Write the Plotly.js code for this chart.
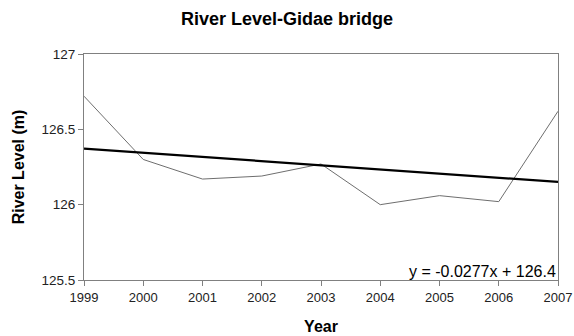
<!DOCTYPE html>
<html>
<head>
<meta charset="utf-8">
<script src="https://cdn.plot.ly/plotly-3.0.1.min.js"></script>
<style>html,body{margin:0;padding:0;background:#fff;}#chart{width:574px;height:336px;}</style>
</head>
<body>
<div id="chart"></div>
<script>
var years = [1999, 2000, 2001, 2002, 2003, 2004, 2005, 2006, 2007];
var levels = [126.72, 126.30, 126.17, 126.19, 126.27, 126.00, 126.06, 126.02, 126.62];
var trendYears = [1999, 2007];
var trendLevels = [126.372, 126.151];
var equationText = 'y = -0.0277x + 126.4';

var font = 'Arial, "Liberation Sans", sans-serif';
var data = [
  {x: years, y: levels, type: 'scatter', mode: 'lines', line: {color: '#6e6e6e', width: 1}, hoverinfo: 'x+y'},
  {x: trendYears, y: trendLevels, type: 'scatter', mode: 'lines', line: {color: '#000000', width: 2.2}, hoverinfo: 'skip'}
];
var layout = {
  width: 574, height: 336,
  margin: {l: 84, r: 16, t: 54, b: 56},
  paper_bgcolor: '#fff', plot_bgcolor: '#fff',
  showlegend: false,
  font: {family: font, size: 13, color: '#000'},
  title: {text: '<b>River Level-Gidae bridge</b>', font: {family: font, size: 18, color: '#000'}, x: 0.5, xanchor: 'center', y: 0.945, yanchor: 'middle'},
  xaxis: {
    range: [1999, 2007], tickmode: 'array', tickvals: years, ticktext: years.map(String),
    showgrid: false, zeroline: false, showline: true, linecolor: '#808080', linewidth: 1, mirror: true,
    ticks: 'outside', ticklen: 5, tickcolor: '#808080',
    tickfont: {family: font, size: 13, color: '#222'},
    title: {text: '<b>Year</b>', font: {family: font, size: 16, color: '#000'}, standoff: 17}
  },
  yaxis: {
    range: [125.5, 127], tickmode: 'array', tickvals: [125.5, 126, 126.5, 127], ticktext: ['125.5', '126', '126.5', '127'],
    showgrid: false, zeroline: false, showline: true, linecolor: '#808080', linewidth: 1, mirror: true,
    ticks: 'outside', ticklen: 5, tickcolor: '#808080',
    tickfont: {family: font, size: 13.5, color: '#222'},
    title: {text: '<b>River Level (m)</b>', font: {family: font, size: 16, color: '#000'}, standoff: 12}
  },
  annotations: [{
    text: equationText, xref: 'paper', yref: 'paper', x: 1, y: 0, xanchor: 'right', yanchor: 'bottom',
    showarrow: false, font: {family: font, size: 16, color: '#000'}, xshift: 0, yshift: -2
  }]
};
Plotly.newPlot('chart', data, layout, {displayModeBar: false, staticPlot: true});
</script>
</body>
</html>
